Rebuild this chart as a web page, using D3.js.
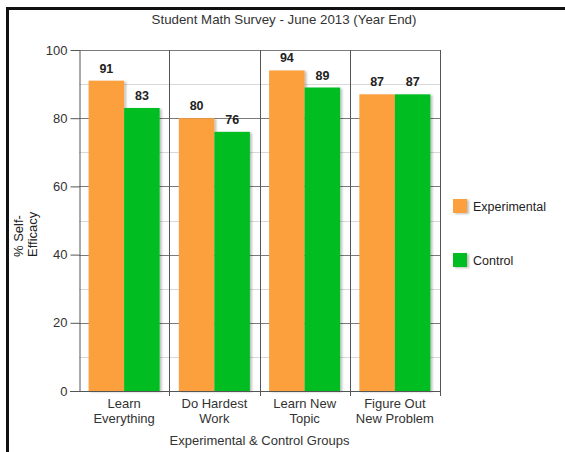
<!DOCTYPE html>
<html lang="en">
<head>
  <meta charset="UTF-8">
  <title>Student Math Survey - June 2013 (Year End)</title>
  <style>
    body { margin: 0; background: #fff; }
    svg { display: block; font-family: Arial, "Liberation Sans", sans-serif; }
  </style>
</head>
<body>
  <svg width="565" height="452"></svg>

  <script src="https://d3js.org/d3.v7.min.js"></script>
  <script>
    const categories = [["Learn", "Everything"], ["Do Hardest", "Work"], ["Learn New", "Topic"], ["Figure Out", "New Problem"]];
    const series = ["Experimental", "Control"];
    const experimental = [91, 80, 94, 87];
    const control = [83, 76, 89, 87];
    const yTicks = [0, 20, 40, 60, 80, 100];
    const colors = ["#fba03e", "#05bd22"];

    const width = 565, height = 452;
    const margin = { top: 50, right: 125, bottom: 61, left: 79 };

    const svg = d3.select("svg").attr("viewBox", [0, 0, width, height]);

    // drop shadow for bars
    const defs = svg.append("defs");
    const f = defs.append("filter").attr("id", "shadow")
      .attr("x", "-20%").attr("y", "-20%").attr("width", "150%").attr("height", "150%");
    f.append("feDropShadow").attr("dx", 2).attr("dy", 1).attr("stdDeviation", 1.2)
      .attr("flood-color", "#000").attr("flood-opacity", 0.25);

    // outer frame
    svg.append("rect")
      .attr("x", 7.5).attr("y", 8.5).attr("width", 570).attr("height", 460)
      .attr("fill", "none").attr("stroke", "#111").attr("stroke-width", 3);

    const keys = categories.map(d => d.join(" "));
    const x0 = d3.scaleBand().domain(keys).range([margin.left, width - margin.right]);
    const x1 = d3.scaleBand().domain(series).range([0, x0.bandwidth()]).paddingOuter(0.27);
    const y = d3.scaleLinear().domain([0, 100]).range([height - margin.bottom, margin.top]);

    // minor gridlines
    svg.append("g").selectAll("line")
      .data(d3.range(10, 100, 20))
      .join("line")
      .attr("x1", margin.left).attr("x2", width - margin.right)
      .attr("y1", d => Math.round(y(d)) + 0.5).attr("y2", d => Math.round(y(d)) + 0.5)
      .attr("stroke", "#d8d8d8");

    // major gridlines
    svg.append("g").selectAll("line")
      .data(yTicks.slice(1))
      .join("line")
      .attr("x1", margin.left).attr("x2", width - margin.right)
      .attr("y1", d => Math.round(y(d)) + 0.5).attr("y2", d => Math.round(y(d)) + 0.5)
      .attr("stroke", "#7a7a7a");

    // category dividers and right border
    svg.append("g").selectAll("line")
      .data(keys.slice(1).map(k => x0(k)).concat([width - margin.right]))
      .join("line")
      .attr("x1", d => Math.round(d) + 0.5).attr("x2", d => Math.round(d) + 0.5)
      .attr("y1", y(100)).attr("y2", y(0) + 5)
      .attr("stroke", "#555");

    // bars
    const data = keys.map((k, i) => ({ key: k, values: [experimental[i], control[i]] }));
    const groups = svg.append("g").selectAll("g")
      .data(data)
      .join("g")
      .attr("transform", d => `translate(${x0(d.key)},0)`);

    groups.selectAll("rect")
      .data(d => d.values.map((v, j) => ({ s: series[j], v, j })))
      .join("rect")
      .attr("x", d => x1(d.s))
      .attr("y", d => y(d.v))
      .attr("width", x1.bandwidth())
      .attr("height", d => y(0) - y(d.v))
      .attr("fill", d => colors[d.j])
      .attr("filter", "url(#shadow)");

    groups.selectAll("text")
      .data(d => d.values.map((v, j) => ({ s: series[j], v, j })))
      .join("text")
      .attr("x", d => x1(d.s) + x1.bandwidth() / 2)
      .attr("y", d => y(d.v) - 8)
      .attr("text-anchor", "middle")
      .attr("font-size", 12.5)
      .attr("font-weight", "bold")
      .attr("fill", "#222")
      .text(d => d.v);

    // y axis
    const yAxis = svg.append("g")
      .attr("transform", `translate(${margin.left + 0.5},0)`)
      .call(d3.axisLeft(y).tickValues(yTicks).tickSize(9).tickPadding(3).tickSizeOuter(0));
    yAxis.select(".domain").attr("stroke", "#555");
    yAxis.selectAll(".tick line").attr("stroke", "#555");
    yAxis.selectAll(".tick text").attr("font-size", 13).attr("fill", "#333")
      .attr("font-family", "Arial, 'Liberation Sans', sans-serif");

    // x axis line
    svg.append("line")
      .attr("x1", margin.left - 9).attr("x2", width - margin.right)
      .attr("y1", Math.round(y(0)) + 0.5).attr("y2", Math.round(y(0)) + 0.5)
      .attr("stroke", "#555");

    // x category labels
    const xl = svg.append("g").selectAll("text")
      .data(categories)
      .join("text")
      .attr("x", (d, i) => x0(keys[i]) + x0.bandwidth() / 2)
      .attr("y", y(0) + 17)
      .attr("text-anchor", "middle")
      .attr("font-size", 13)
      .attr("fill", "#333");
    xl.selectAll("tspan")
      .data(d => d)
      .join("tspan")
      .attr("x", function () { return d3.select(this.parentNode).attr("x"); })
      .attr("dy", (d, i) => i === 0 ? 0 : 15)
      .text(d => d);

    // title
    svg.append("text")
      .attr("x", 284).attr("y", 24)
      .attr("text-anchor", "middle")
      .attr("font-size", 13.3)
      .attr("fill", "#333")
      .text("Student Math Survey - June 2013 (Year End)");

    // x axis title
    svg.append("text")
      .attr("x", (margin.left + width - margin.right) / 2).attr("y", 445)
      .attr("text-anchor", "middle")
      .attr("font-size", 13)
      .attr("fill", "#333")
      .text("Experimental & Control Groups");

    // y axis title
    const yt = svg.append("text")
      .attr("transform", "translate(23,257) rotate(-90)")
      .attr("text-anchor", "start")
      .attr("font-size", 13)
      .attr("fill", "#222");
    yt.append("tspan").attr("x", 0).attr("dy", 0).text("% Self-");
    yt.append("tspan").attr("x", 0).attr("dy", 14).text("Efficacy");

    // legend
    const legend = svg.append("g").selectAll("g")
      .data(series)
      .join("g")
      .attr("transform", (d, i) => `translate(453,${199 + i * 54})`);
    legend.append("rect")
      .attr("width", 14).attr("height", 14)
      .attr("fill", (d, i) => colors[i])
      .attr("filter", "url(#shadow)");
    legend.append("text")
      .attr("x", 20).attr("y", 12)
      .attr("font-size", 12.5)
      .attr("fill", "#222")
      .text(d => d);
  </script>
</body>
</html>
